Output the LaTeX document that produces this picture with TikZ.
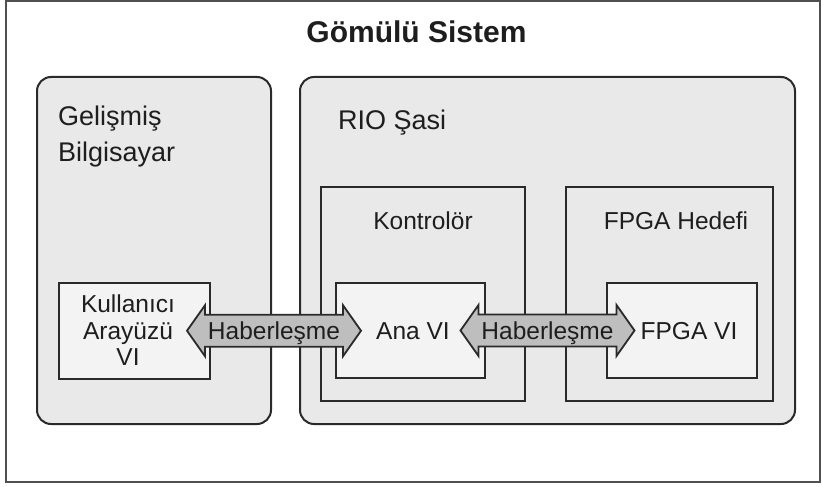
\documentclass[tikz,border=0pt]{standalone}
\usepackage{fontspec}
\setmainfont{Liberation Sans}
\usetikzlibrary{calc}
\definecolor{boxgray}{HTML}{E9E9E9}
\definecolor{vigray}{HTML}{F3F3F3}
\definecolor{arrgray}{HTML}{BEBEBE}
\definecolor{linec}{HTML}{2A2A2A}
\definecolor{framec}{HTML}{505050}
\definecolor{txt}{HTML}{1E1E1E}
\tikzset{
  bigbox/.style={draw=linec, fill=boxgray, line width=2pt, rounded corners=14pt, inner sep=0pt},
  midbox/.style={draw=linec, fill=boxgray, line width=1.8pt, inner sep=0pt},
  vibox/.style={draw=linec, fill=vigray, line width=1.8pt, inner sep=0pt},
  arrshape/.style={draw=linec, fill=arrgray, line width=1.8pt, line join=miter},
  lbl/.style={text=txt, inner sep=0pt, font=\fontsize{24.5}{26}\selectfont},
  biglbl/.style={text=txt, inner sep=0pt, font=\fontsize{27}{31}\selectfont},
}
\begin{document}
\begin{tikzpicture}[x=1pt,y=-1pt]
\useasboundingbox (0,0) rectangle (823,487);
\fill[white] (0,0) rectangle (823,487);
\draw[framec, line width=2pt] (5.5,1.5) rectangle (819.5,482);
\node[text=txt, inner sep=0pt, anchor=base, font=\bfseries\fontsize{30}{34}\selectfont] (title) at (416.5,43) {Gömülü Sistem};
% outer boxes
\node[bigbox, minimum width=234pt, minimum height=347pt] (gel) at (154,250.5) {};
\node[bigbox, minimum width=495pt, minimum height=347pt] (rio) at (547.5,250.5) {};
\node[biglbl, anchor=base west] (gel1) at (58,125) {Gelişmiş};
\node[biglbl, anchor=base west] (gel2) at (58,161) {Bilgisayar};
\node[biglbl, anchor=base west] (riolbl) at (338,130) {RIO Şasi};
% middle boxes
\node[midbox, minimum width=204pt, minimum height=214pt] (kon) at (423,294) {};
\node[midbox, minimum width=207pt, minimum height=214pt] (fpga) at (669.5,294) {};
\node[lbl, anchor=base] (konlbl) at (423,229.5) {Kontrolör};
\node[lbl, anchor=base] (fpgalbl) at (676,229.5) {FPGA Hedefi};
% VI boxes
\node[vibox, minimum width=151pt, minimum height=96pt] (kul) at (134.5,331) {};
\node[vibox, minimum width=149pt, minimum height=95pt] (ana) at (410.5,330.5) {};
\node[vibox, minimum width=150pt, minimum height=95pt] (fvi) at (682,330.5) {};
\node[lbl, anchor=base] (kul1) at (128,312.5) {Kullanıcı};
\node[lbl, anchor=base] (kul2) at (128,339) {Arayüzü};
\node[lbl, anchor=base] (kul3) at (128,365.5) {VI};
\node[lbl, anchor=base] (analbl) at (413,339.5) {Ana VI};
\node[lbl, anchor=base] (fvilbl) at (689,339.5) {FPGA VI};
% arrows
\coordinate (c1) at ($(kul.east)!0.5!(ana.west)+(1,0)$);
\coordinate (c2) at ($(ana.east)!0.5!(fvi.west)+(1.5,0)$);
\foreach \c in {c1,c2}{
  \draw[arrshape] (\c) ++(-87,0) -- ++(18,-25.5) -- ++(0,9.5) -- ++(138,0) -- ++(0,-9.5)
     -- ++(18,25.5) -- ++(-18,25.5) -- ++(0,-9.5) -- ++(-138,0) -- ++(0,9.5) -- cycle;
}
\node[lbl, anchor=base] (hab1) at ($(c1)+(0,8.5)$) {Haberleşme};
\node[lbl, anchor=base] (hab2) at ($(c2)+(0,8.5)$) {Haberleşme};
\end{tikzpicture}
\end{document}
